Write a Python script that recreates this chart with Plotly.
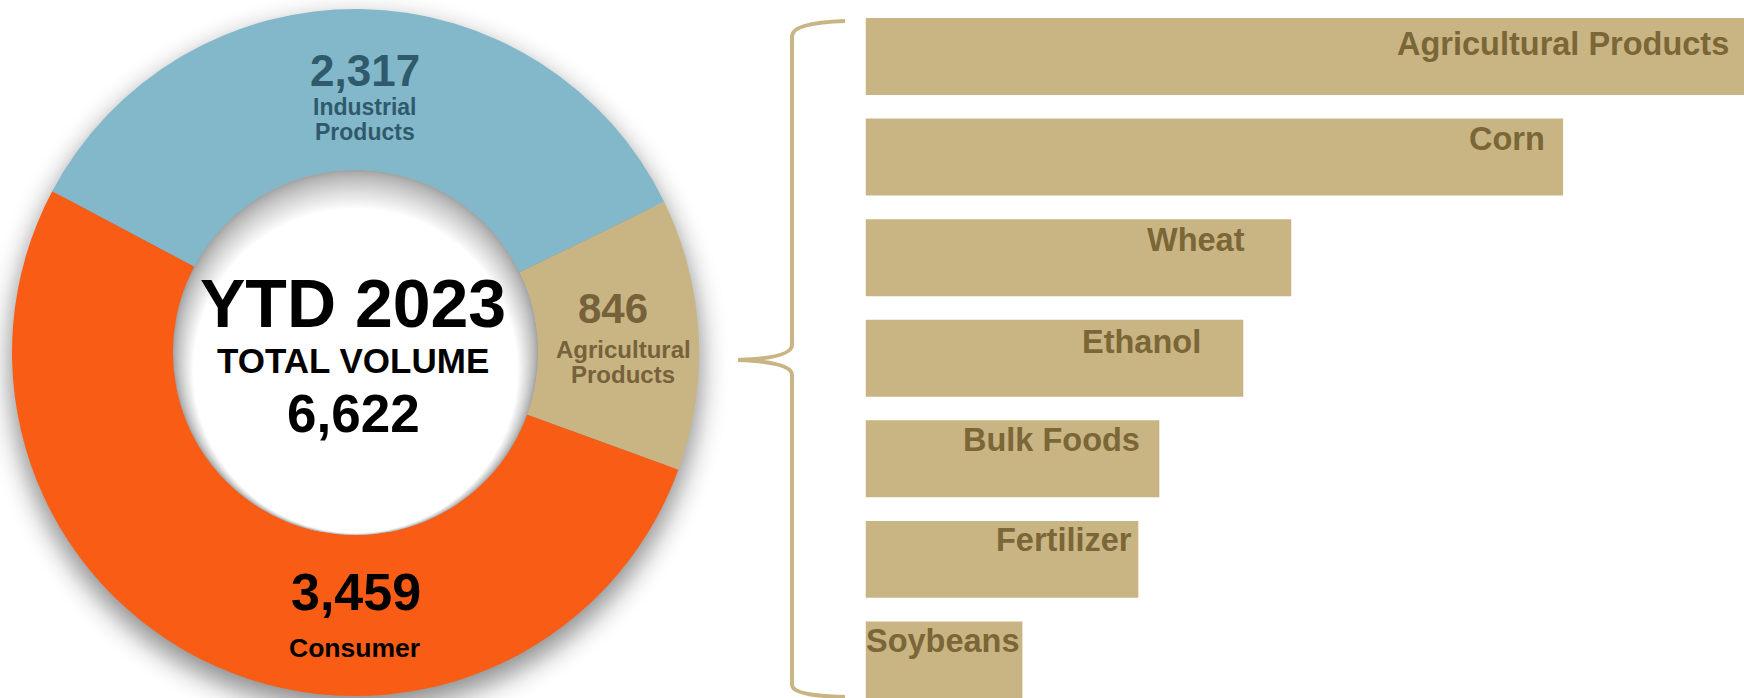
import math
import plotly.graph_objects as go

W, H = 1744, 698

segments = ['Industrial Products', 'Agricultural Products', 'Consumer']
volumes = [2317, 846, 3459]
segment_colors = ['#83B8CA', '#C9B584', '#F95D15']
segment_text_colors = ['#2F5A6B', '#75623A', '#000000']

ag_products = ['Agricultural Products', 'Corn', 'Wheat', 'Ethanol', 'Bulk Foods', 'Fertilizer', 'Soybeans']
ag_volumes = [880, 698, 426, 378, 294, 273, 157]

center_title = 'YTD 2023'
center_subtitle = 'TOTAL VOLUME'

tan = '#C9B584'
olive = '#7A6636'
font_family = 'Liberation Sans, Arial, sans-serif'


def px(x):
    return x / W


def py(y):
    return 1 - y / H


# donut geometry (pixels)
cx, cy, R = 355.5, 352.5, 343.5
hole_r = 182.0

fig = go.Figure()

fig.add_trace(
    go.Pie(labels = segments,
           values = volumes,
           hole = hole_r / R,
           sort = False,
           direction = 'clockwise',
           rotation = -62,
           marker = dict(colors = segment_colors, line = dict(width = 0)),
           textinfo = 'none',
           hoverinfo = 'label+value',
           domain = dict(x = [px(cx - R), px(cx + R)], y = [py(cy + R), py(cy - R)]),
           showlegend = False))

fig.add_trace(
    go.Bar(x = ag_volumes,
           y = ag_products,
           orientation = 'h',
           width = 0.765,
           marker = dict(color = tan, line = dict(width = 0)),
           hoverinfo = 'x+y',
           showlegend = False))

shapes = []

# soft drop shadow behind the donut (stacked circles approximating a blur)
sigma, max_alpha, drop = 14.0, 0.45, 12
n_out = 40
prev = 0.0
for i in range(n_out):
    d = 3 * sigma - 6 * sigma * i / (n_out - 1)
    target = max_alpha * 0.5 * (1 - math.erf(d / (sigma * math.sqrt(2))))
    a = 1 - (1 - target) / (1 - prev)
    prev = target
    r = R + 2 + d
    if a <= 0:
        continue
    shapes.append(dict(type = 'circle', xref = 'paper', yref = 'paper', layer = 'below',
                       x0 = px(cx - r), x1 = px(cx + r), y0 = py(cy + drop + r), y1 = py(cy + drop - r),
                       fillcolor = 'rgba(0,0,0,%.4f)' % a, line = dict(width = 0)))

# inner shadow in the hole
n_in = 20
for i in range(n_in):
    t = i / (n_in - 1)
    r = hole_r + 0.6 - 20 * t
    dy = 18 * t
    g = int(166 + 89 * t ** 0.8)
    shapes.append(dict(type = 'circle', xref = 'paper', yref = 'paper', layer = 'above',
                       x0 = px(cx - r), x1 = px(cx + r), y0 = py(cy + dy + r), y1 = py(cy + dy - r),
                       fillcolor = 'rgb(%d,%d,%d)' % (g, g, g), line = dict(width = 0)))

# curly brace linking the agricultural slice to its breakdown
brace_pts = [('M', 845, 21), ('Q', 792, 23), ('', 792, 36), ('L', 792, 345),
             ('Q', 792, 358), ('', 738, 360), ('Q', 792, 362), ('', 792, 375),
             ('L', 792, 685), ('Q', 792, 696), ('', 845, 697)]
brace_path = ' '.join('%s%.5f,%.5f' % (c, px(x), py(y)) for c, x, y in brace_pts)
shapes.append(dict(type = 'path', xref = 'paper', yref = 'paper', path = brace_path,
                   line = dict(color = tan, width = 4), layer = 'above'))

annotations = []


def add_text(text, x, y, size, color):
    annotations.append(dict(text = text, x = px(x), y = py(y), xref = 'paper', yref = 'paper',
                            xanchor = 'center', yanchor = 'middle', showarrow = False,
                            font = dict(family = font_family, size = size, color = color, weight = 'bold')))


# donut centre text
add_text(center_title, 353, 302.5, 68, 'black')
add_text(center_subtitle, 353, 360.5, 35, 'black')
add_text(f'{sum(volumes):,}', 353.5, 413, 53, 'black')

# slice labels: (x number, y number, x name, y first name line, number size, name size, line gap)
slice_label_pos = [
    (365, 70, 364.5, 107, 44, 23, 25),
    (612.5, 308, 623, 349.5, 42, 24, 24.5),
    (356, 592, 354, 648, 52, 26.5, 0),
]
for seg, v, col, pos in zip(segments, volumes, segment_text_colors, slice_label_pos):
    xn, yn, xl, yl, sn, sl, gap = pos
    add_text(f'{v:,}', xn, yn, sn, col)
    lines = seg.split(' ') if gap else [seg]
    for k, line in enumerate(lines):
        add_text(line, xl, yl + k * gap, sl, col)

# bar labels, placed near the upper right of each bar
x_max = 879
label_pad = [13, 16, 44, 40, 17, 4, 0]
label_lift = [13, 18, 17.5, 16.5, 18.5, 19, 18.5]
for name, v, pad, lift in zip(ag_products, ag_volumes, label_pad, label_lift):
    annotations.append(dict(text = name, x = min(v, x_max), y = name, xref = 'x', yref = 'y',
                            xanchor = 'right', yanchor = 'middle', xshift = -pad, yshift = lift,
                            showarrow = False,
                            font = dict(family = font_family, size = 32.5, color = olive, weight = 'bold')))

fig.update_layout(width = W,
                  height = H,
                  margin = dict(l = 0, r = 0, t = 0, b = 0),
                  paper_bgcolor = 'white',
                  plot_bgcolor = 'rgba(0,0,0,0)',
                  bargap = 0.235,
                  xaxis = dict(domain = [px(865.5), 1], range = [0, x_max], visible = False, fixedrange = True),
                  yaxis = dict(type = 'category', categoryorder = 'array', categoryarray = ag_products,
                               range = [6.378, -0.5617], visible = False, fixedrange = True),
                  shapes = shapes,
                  annotations = annotations)

fig.write_html('out.html',
               config = dict(displayModeBar = False),
               post_script = "document.body.style.margin='0';document.body.style.overflow='hidden';")
